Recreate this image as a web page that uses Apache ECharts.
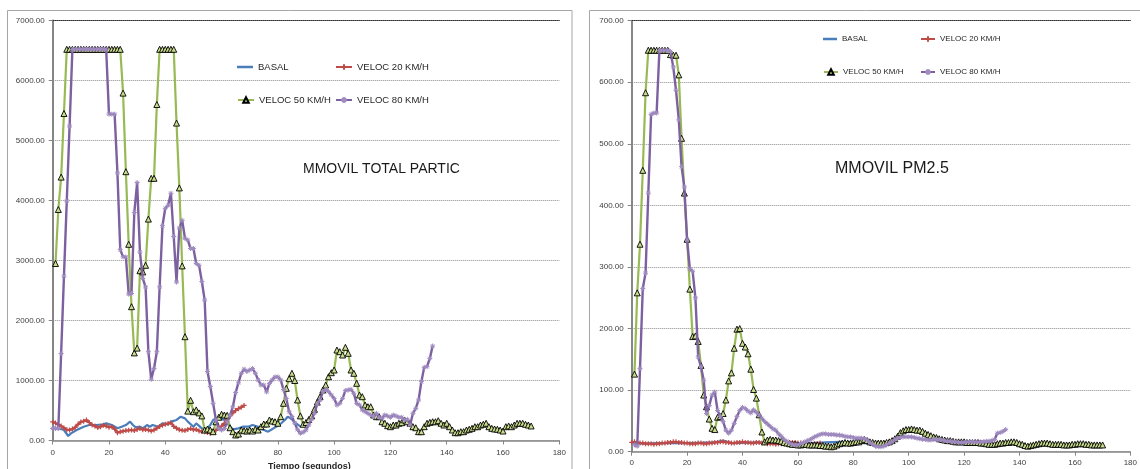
<!DOCTYPE html>
<html><head><meta charset="utf-8">
<script src="https://cdn.jsdelivr.net/npm/echarts@6/dist/echarts.min.js"></script>
<style>html,body{margin:0;padding:0;background:#fff}#c{width:1140px;height:469px}</style>
</head><body><div id="c"></div>
<script>
// ---------- DATA ----------
const seriesNames = ['BASAL', 'VELOC 20 KM/H', 'VELOC 50 KM/H', 'VELOC 80 KM/H'];
const titleTotal = 'MMOVIL TOTAL PARTIC';
const titlePm = 'MMOVIL PM2.5';
const xAxisName = 'Tiempo (segundos)';

// TOTAL PARTIC chart
const basalTotal = [[0,219],[2,203],[4,175],[5.5,75],[6.5,119],[8.5,175],[11,230],[13,258],[15.5,258],[18,269],[19,286],[21,258],[23,203],[24.5,230],[26,258],[27.5,314],[28.5,258],[29.5,219],[31,230],[32,203],[33.5,258],[34.5,230],[35.5,258],[37.5,230],[39,286],[41,269],[42,314],[44,342],[45.5,397],[47,369],[48,314],[50,230],[51,286],[53,203],[54.5,175],[56,258],[57,342],[58,369],[59.5,369],[61,342],[62.5,258],[64,186],[66,203],[67.5,230],[69.5,230],[71,258],[73,230],[74.5,186],[76.5,147],[77.5,175],[79,219],[80.5,258],[82.5,342],[83.5,397],[85,353],[86,300],[88,235]];
const v20TotalStart = 0;
const v20Total = [310,290,265,240,210,180,175,190,220,270,310,320,340,300,260,240,215,230,255,240,220,230,190,130,145,155,165,170,175,165,185,200,180,185,175,160,175,205,235,255,270,285,295,235,205,180,170,165,185,200,180,185,160,148,145,132,120,145,170,210,240,285,350,410,460,500,530,555,585];
const v50TotalStart = 1;
const v50Total = [2950,3850,4390,5450,
 6520,6520,6520,6520,6520,6520,6520,6520,6520,6520,6520,6520,6520,6520,6520,6520,6520,6520,6520,6520,
 5790,4480,3270,2230,1460,1540,2830,2810,2920,3690,4370,4370,5600,6520,6520,6520,6520,6520,6520,5290,4210,2910,1730,490,670,480,510,460,410,
 175,192,175,147,313,387,437,425,420,213,147,92,108,175,163,158,175,158,187,175,230,275,275,342,325,313,287,397,620,870,1030,1120,1000,675,410,
 270,300,350,410,520,640,730,842,925,1063,1130,1175,1508,1480,1425,1553,1453,1175,1120,953,758,730,592,563,563,425,397,397,313,287,247,230,258,258,287,297,342,313,287,230,213,147,147,230,287,303,313,313,330,287,258,287,230,175,130,130,147,147,175,187,203,230,230,258,270,287,230,203,192,187,175,158,230,242,230,258,287,287,287,270,258,242];
const v80TotalStart = 0;
const v80Total = [200,200,200,1450,2740,3990,5240,
 6520,6520,6520,6520,6520,6520,6520,6520,6520,6520,6520,6520,6520,
 5440,5440,5440,4460,3180,3060,3060,2440,2450,3800,4300,3140,2700,2560,1480,1020,1200,1480,2560,3580,3870,3920,4120,3400,2640,3540,3670,3370,3340,3200,3200,2950,2920,2650,2340,1150,900,620,340,200,
 175,200,310,420,560,800,960,1120,1190,1150,1175,1200,1120,1010,925,925,810,950,1010,1060,1060,1010,850,700,480,400,290,180,120,140,
 175,258,353,453,608,675,814,853,814,758,700,590,620,703,831,842,853,786,619,592,508,480,453,425,397,453,386,369,425,408,386,425,408,386,386,342,353,258,453,536,675,981,1219,1230,1369,1575];

// PM2.5 chart
const basalPm = [[0,14],[5,13],[10,14],[20,14],[30,15],[33,18],[36,14],[45,15],[55,14],[62,13],[70,15],[75,16],[80,15],[85,14],[88,14]];
const v20PmStart = 0;
const v20Pm = [15,16,15,14,14,13,13,13,12,13,13,14,14,15,15,16,16,15,15,14,14,13,13,13,14,14,13,13,14,14,15,15,16,16,15,15,14,14,15,15,16,15,15,14,14,15,15,14,14,13,13,13,12,13,13,14,14,15,15,15,14,14,13,13,12,12,13,13,14];
const v50PmStart = 1;
const v50Pm = [126,258,337,457,583,652,652,652,652,652,652,652,652,645,644,644,612,509,420,345,264,187,188,179,140,92,73,53,38,36,56,57,62,84,115,128,168,199,200,176,170,159,134,101,87,60,32,16,19,20,19,19,18,17,15,14,13,12,12,11,11,12,12,11,11,11,11,10,10,9,9,8,9,11,13,14,15,14,14,15,16,16,18,20,18,16,15,14,14,14,14,15,16,18,21,25,31,34,36,36,37,36,35,35,33,30,28,26,24,23,21,20,19,18,18,17,16,16,16,16,15,15,15,15,15,14,14,13,12,12,12,13,14,14,15,15,16,16,15,13,12,10,9,10,11,12,13,14,14,14,13,12,12,12,12,11,11,11,12,12,13,13,13,12,12,11,11,11,11,11];
const v80PmStart = 1;
const v80Pm = [11,9,135,265,290,420,548,550,550,652,652,652,652,650,625,587,539,463,430,344,297,293,250,154,138,116,62,75,92,97,67,57,49,35,30,35,46,57,67,72,70,66,63,68,64,60,54,49,45,41,37,35,29,25,20,17,14,12,11,11,13,15,17,19,21,24,26,28,29,29,28,28,28,27,27,26,25,24,24,23,22,22,22,21,19,15,12,9,8,8,9,11,14,16,20,22,23,24,24,24,24,23,22,21,20,20,19,19,20,20,19,19,18,17,17,16,16,15,15,15,16,16,16,16,16,16,16,17,17,18,20,30,31,33,36];

// Axes
const xTicks = {min: 0, max: 180, step: 20};
const yTotal = {min: 0, max: 7000, step: 1000};
const yPm = {min: 0, max: 700, step: 100};

// ---------- CHART ----------
const toPairs = (start, arr) => arr.map((v, i) => [start + i, v]);
const C = {blue: '#4A7EBB', red: '#BE4B48', green: '#98B954', purple: '#7D60A0'};
const FONT = '"Liberation Sans", Arial, sans-serif';
const plusPath = 'path://M0,5L10,5M5,0L5,10';
const starPath = 'path://M0,5L10,5M5,0L5,10M1.5,1.5L8.5,8.5M8.5,1.5L1.5,8.5';

function makeSeries(g, basal, v20, v50, v80, symSize) {
  const xi = g * 2, yi = g * 2;
  return [
    {name: seriesNames[0], type: 'line', xAxisIndex: xi, yAxisIndex: yi, data: basal, symbol: 'none',
     lineStyle: {color: C.blue, width: 2.2}, itemStyle: {color: C.blue}, z: 2},
    {name: seriesNames[1], type: 'line', xAxisIndex: xi, yAxisIndex: yi, data: v20, symbol: plusPath, symbolSize: symSize - 1,
     showAllSymbol: true, lineStyle: {color: C.red, width: 2.2}, itemStyle: {color: C.red, borderColor: C.red, borderWidth: 1.2}, z: 3},
    {name: seriesNames[2], type: 'line', xAxisIndex: xi, yAxisIndex: yi, data: v50, symbol: 'triangle', symbolSize: symSize,
     showAllSymbol: true, lineStyle: {color: C.green, width: 2.2}, itemStyle: {color: '#c9dc8e', borderColor: '#000', borderWidth: 0.9}, z: 4},
    {name: seriesNames[3], type: 'line', xAxisIndex: xi, yAxisIndex: yi, data: v80, symbol: starPath, symbolSize: symSize - 1,
     showAllSymbol: true, lineStyle: {color: C.purple, width: 2.4}, itemStyle: {color: C.purple, borderColor: '#a08cc0', borderWidth: 1}, z: 5}
  ];
}

function axesFor(g, yCfg, labelMargin) {
  const xs = [
    {type: 'value', gridIndex: g, min: xTicks.min, max: xTicks.max, interval: xTicks.step,
     axisLine: {show: true, lineStyle: {color: '#868686', width: 1.5}},
     axisTick: {show: true, length: 4, lineStyle: {color: '#868686'}},
     axisLabel: {fontSize: 8, color: '#404040', fontFamily: FONT, margin: labelMargin},
     splitLine: {show: false}},
    {type: 'value', gridIndex: g, position: 'top', min: xTicks.min, max: xTicks.max, interval: xTicks.step,
     axisLine: {show: true, onZero: false, lineStyle: {color: '#333', type: 'dotted', width: 1}},
     axisTick: {show: false}, axisLabel: {show: false}, splitLine: {show: false}}
  ];
  const ys = [
    {type: 'value', gridIndex: g, min: yCfg.min, max: yCfg.max, interval: yCfg.step,
     axisLine: {show: true, lineStyle: {color: '#868686', width: 2}},
     axisTick: {show: true, length: 4, lineStyle: {color: '#868686'}},
     axisLabel: {fontSize: 8, color: '#404040', fontFamily: FONT, margin: 8, formatter: v => v.toFixed(2)},
     splitLine: {show: true, lineStyle: {color: '#8c8c8c', type: 'dotted', width: 1}}},
    {type: 'value', gridIndex: g, position: 'right', min: yCfg.min, max: yCfg.max, interval: yCfg.step,
     axisLine: {show: true, lineStyle: {color: '#868686', width: 1.5}},
     axisTick: {show: false}, axisLabel: {show: false}, splitLine: {show: false}}
  ];
  return {xs, ys};
}

const a0 = axesFor(0, yTotal, 8);
const a1 = axesFor(1, yPm, 7);

function legendItem(name, left, top, fs, w, isPlain) {
  const l = {show: true, data: [name], left: left, top: top, itemWidth: w, itemHeight: 7, selectedMode: false,
          padding: 0, textStyle: {fontSize: fs, color: '#262626', fontFamily: FONT}};
  if (isPlain) { l.icon = 'rect'; l.itemHeight = 2.5; }
  return l;
}

const chart = echarts.init(document.getElementById('c'), null, {renderer: 'canvas'});
chart.setOption({
  animation: false,
  backgroundColor: '#fff',
  grid: [
    {left: 52.7, top: 20.5, width: 506.6, height: 420},
    {left: 631.7, top: 20.7, width: 504.3, height: 431}
  ],
  xAxis: [...a0.xs, ...a1.xs],
  yAxis: [...a0.ys, ...a1.ys],
  legend: [
    legendItem(seriesNames[0], 237, 62, 9.5, 16, true),
    legendItem(seriesNames[1], 335, 62, 9.5, 16),
    legendItem(seriesNames[2], 237, 95, 9.5, 16),
    legendItem(seriesNames[3], 335, 95, 9.5, 16),
    legendItem(seriesNames[0], 823, 35, 8, 14, true),
    legendItem(seriesNames[1], 920, 35, 8, 14),
    legendItem(seriesNames[2], 823, 68, 8, 14),
    legendItem(seriesNames[3], 920, 68, 8, 14)
  ],
  graphic: [
    {type: 'rect', shape: {x: 7.5, y: 10.5, width: 564.5, height: 470}, style: {fill: 'none', stroke: '#a6a6a6', lineWidth: 1}, z: 0},
    {type: 'rect', shape: {x: 589.5, y: 10.5, width: 570, height: 470}, style: {fill: 'none', stroke: '#a6a6a6', lineWidth: 1}, z: 0},
    {type: 'text', left: 303, top: 162, style: {text: titleTotal, fontSize: 14, fill: '#1a1a1a', fontFamily: FONT}, z: 10},
    {type: 'text', left: 835, top: 161, style: {text: titlePm, fontSize: 16, fill: '#1a1a1a', fontFamily: FONT}, z: 10},
    {type: 'text', left: 268, top: 462, style: {text: xAxisName, fontSize: 9, fontWeight: 'bold', fill: '#262626', fontFamily: FONT}, z: 10}
  ],
  series: [
    ...makeSeries(0, basalTotal, toPairs(v20TotalStart, v20Total), toPairs(v50TotalStart, v50Total), toPairs(v80TotalStart, v80Total), 6),
    ...makeSeries(1, basalPm, toPairs(v20PmStart, v20Pm), toPairs(v50PmStart, v50Pm), toPairs(v80PmStart, v80Pm), 6)
  ]
});
</script>
</body></html>
